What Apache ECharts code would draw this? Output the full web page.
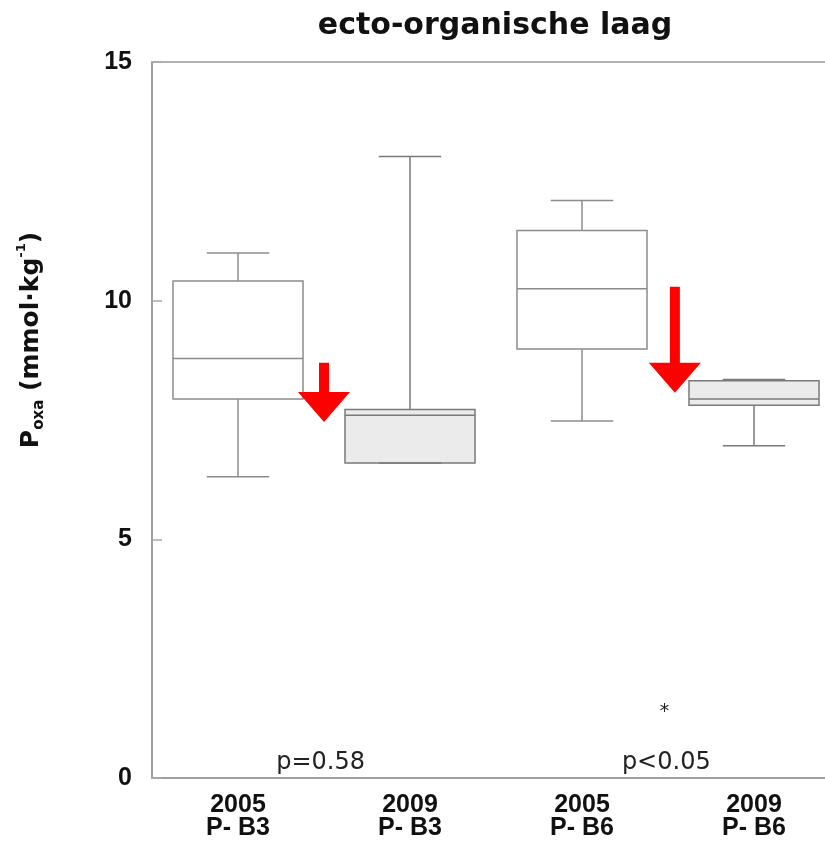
<!DOCTYPE html>
<html>
<head>
<meta charset="utf-8">
<script src="https://cdn.jsdelivr.net/npm/echarts@6/dist/echarts.min.js"></script>
<style>html,body{margin:0;padding:0;background:#fff}#c{width:825px;height:842px}</style>
</head>
<body>
<div id="c"></div>
<script>
// ---- data ----
const categories = ['2005\nP- B3', '2009\nP- B3', '2005\nP- B6', '2009\nP- B6'];
const whiskerLow  = [6.31, 6.60, 7.48, 6.96];
const q1          = [7.94, 6.60, 8.99, 7.81];
const median      = [8.79, 7.60, 10.25, 7.94];
const q3          = [10.41, 7.72, 11.47, 8.32];
const whiskerHigh = [11.00, 13.02, 12.10, 8.35];
const yTicks = [0, 5, 10, 15];

// annotations (x in category-index units, y in data units)
const arrowX   = [0.50, 2.54];
const arrowTop = [8.70, 10.29];
const arrowTip = [7.46, 8.07];
const noteText = ['p=0.58', 'p<0.05', '*'];
const noteX    = [0.48, 2.49, 2.48];
const noteY    = [0.31, 0.31, 1.38];

// ---- styles ----
const FONT = '"Liberation Sans", Arial, sans-serif';
const WIDE = '"DejaVu Sans", sans-serif';
const boxFill   = ['#ffffff', '#ebebeb', '#ffffff', '#ebebeb'];
const boxStroke = ['#8c8c8c', '#7a7a7a', '#8c8c8c', '#7a7a7a'];

const boxData = categories.map((c, i) => [i, whiskerLow[i], q1[i], median[i], q3[i], whiskerHigh[i]]);
const arrowData = arrowX.map((x, i) => [x, arrowTop[i], arrowTip[i]]);
const noteData = noteX.map((x, i) => [x, noteY[i]]);

const chart = echarts.init(document.getElementById('c'));
chart.setOption({
  animation: false,
  backgroundColor: '#fff',
  title: {
    text: 'ecto-organische laag',
    left: 490, top: 6, textAlign: 'center',
    textStyle: { fontFamily: WIDE, fontWeight: 'bold', fontSize: 30, color: '#111' }
  },
  grid: { left: 152, right: -15, top: 62, bottom: 64, outerBoundsMode: 'none', containLabel: false,
    show: true, borderColor: '#999', borderWidth: 1.5 },
  xAxis: [{
    type: 'category', data: categories, boundaryGap: true,
    axisLine: { lineStyle: { color: '#999', width: 1.5 } },
    axisTick: { inside: true, length: 10, alignWithLabel: true, lineStyle: { color: '#aaa', width: 1.5 } },
    axisLabel: { margin: 16, fontFamily: FONT, fontWeight: 'bold', fontSize: 25, lineHeight: 23, color: '#111' },
    splitLine: { show: false }
  }, {
    type: 'value', min: -0.5, max: 3.5, show: false, position: 'bottom'
  }],
  yAxis: {
    type: 'value', min: 0, max: 15, interval: 5,
    axisLine: { show: true, onZero: false, lineStyle: { color: '#999', width: 1.5 } },
    axisTick: { show: true, inside: true, length: 10, lineStyle: { color: '#aaa', width: 1.5 } },
    axisLabel: { margin: 20, fontFamily: FONT, fontWeight: 'bold', fontSize: 25, color: '#111',
      formatter: v => yTicks.includes(v) ? String(v) : '' },
    splitLine: { show: false }
  },
  graphic: [{
    type: 'text', x: 31, y: 340, rotation: Math.PI / 2,
    style: {
      text: '{b|P}{sub|oxa}{b| (mmol·kg}{sup|-1}{b|)}',
      align: 'center', verticalAlign: 'middle',
      rich: {
        b: { fontFamily: WIDE, fontWeight: 'bold', fontSize: 25, lineHeight: 32, fill: '#111', verticalAlign: 'middle' },
        sub: { fontFamily: WIDE, fontWeight: 'bold', fontSize: 15, lineHeight: 32, fill: '#111', verticalAlign: 'bottom' },
        sup: { fontFamily: WIDE, fontWeight: 'bold', fontSize: 13, lineHeight: 32, fill: '#111', verticalAlign: 'top' }
      }
    }
  }],
  series: [{
    type: 'custom', xAxisIndex: 0, yAxisIndex: 0,
    data: boxData,
    encode: { x: 0, y: [1, 2, 3, 4, 5] },
    renderItem(params, api) {
      const i = api.value(0);
      const band = api.size([1, 0])[0];
      const bw = band * 0.756;
      const cw = bw * 0.48;
      const pLo = api.coord([i, api.value(1)]);
      const pQ1 = api.coord([i, api.value(2)]);
      const pMd = api.coord([i, api.value(3)]);
      const pQ3 = api.coord([i, api.value(4)]);
      const pHi = api.coord([i, api.value(5)]);
      const x = pMd[0];
      const st = { stroke: boxStroke[i], lineWidth: 1.5, fill: null };
      return { type: 'group', children: [
        { type: 'line', shape: { x1: x, y1: pHi[1], x2: x, y2: pQ3[1] }, style: st },
        { type: 'line', shape: { x1: x, y1: pQ1[1], x2: x, y2: pLo[1] }, style: st },
        { type: 'rect', shape: { x: x - bw / 2, y: pQ3[1], width: bw, height: pQ1[1] - pQ3[1] },
          style: { stroke: boxStroke[i], lineWidth: 1.5, fill: boxFill[i] } },
        { type: 'line', shape: { x1: x - bw / 2, y1: pMd[1], x2: x + bw / 2, y2: pMd[1] }, style: st },
        { type: 'line', shape: { x1: x - cw / 2, y1: pHi[1], x2: x + cw / 2, y2: pHi[1] }, style: st },
        { type: 'line', shape: { x1: x - cw / 2, y1: pLo[1], x2: x + cw / 2, y2: pLo[1] }, style: st }
      ]};
    }
  }, {
    type: 'custom', xAxisIndex: 1, yAxisIndex: 0,
    data: arrowData,
    encode: { x: 0, y: [1, 2] },
    renderItem(params, api) {
      const top = api.coord([api.value(0), api.value(1)]);
      const tip = api.coord([api.value(0), api.value(2)]);
      const x = top[0], sw = 5, hw = 26, hh = 30;
      const hy = tip[1] - hh;
      return { type: 'polygon', shape: { points: [
        [x - sw, top[1]], [x + sw, top[1]], [x + sw, hy], [x + hw, hy],
        [x, tip[1]], [x - hw, hy], [x - sw, hy]
      ]}, style: { fill: '#ff0000' } };
    }
  }, {
    type: 'custom', xAxisIndex: 1, yAxisIndex: 0,
    data: noteData,
    encode: { x: 0, y: 1 },
    renderItem(params, api) {
      const p = api.coord([api.value(0), api.value(1)]);
      const star = noteText[params.dataIndex] === '*';
      return { type: 'text', x: p[0], y: p[1], style: {
        text: noteText[params.dataIndex], align: 'center', verticalAlign: 'middle',
        fontFamily: WIDE, fontSize: star ? 19 : 24, fill: '#222'
      }};
    }
  }]
});
</script>
</body>
</html>
